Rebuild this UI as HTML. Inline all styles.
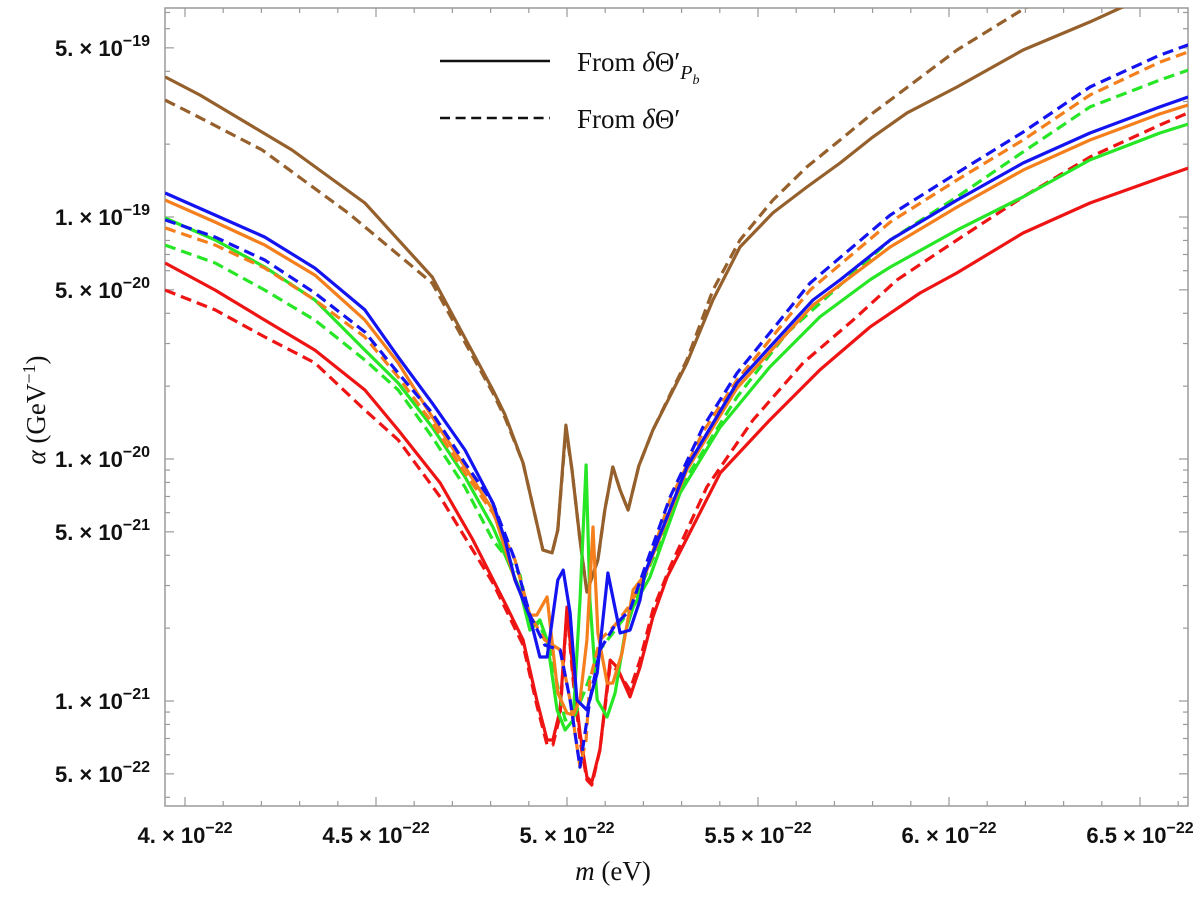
<!DOCTYPE html>
<html><head><meta charset="utf-8"><style>
html,body{margin:0;padding:0;background:#fff;}
svg{display:block;}
.tl{font-family:"Liberation Sans",sans-serif;font-weight:bold;font-size:22px;fill:#111;}
.sr{font-family:"Liberation Serif",serif;fill:#111;}
</style></head><body>
<svg id="chart" width="1200" height="900" viewBox="0 0 1200 900" xmlns="http://www.w3.org/2000/svg">
<defs><clipPath id="plotclip"><rect x="165" y="8" width="1023" height="798"/></clipPath></defs>
<rect x="165" y="8" width="1023" height="798" fill="none" stroke="#9a9a9a" stroke-width="1.5"/>
<g id="ticks"></g>
<g id="series" clip-path="url(#plotclip)"></g>
<g>
<line x1="440" y1="61" x2="550" y2="61" stroke="#111" stroke-width="2.5"/>
<text class="sr" x="577" y="71" font-size="27">From  <tspan font-style="italic">δ</tspan>Θ′<tspan font-style="italic" font-size="20" dy="8">P</tspan><tspan font-style="italic" font-size="14" dy="5">b</tspan></text>
<line x1="440" y1="118" x2="550" y2="118" stroke="#111" stroke-width="2.5" stroke-dasharray="10,5.6"/>
<text class="sr" x="577" y="128" font-size="27">From  <tspan font-style="italic">δ</tspan>Θ′</text>
</g>
<text class="sr" x="613" y="880" font-size="27" text-anchor="middle"><tspan font-style="italic">m</tspan> (eV)</text>
<text class="sr" font-size="27" text-anchor="middle" transform="translate(45,410) rotate(-90)"><tspan font-style="italic">α</tspan> (GeV<tspan font-size="18" dy="-10">−1</tspan><tspan dy="10">)</tspan></text>
</svg>
<script>
const xMajorTicks=[4.0,4.5,5.0,5.5,6.0,6.5];
const xTickLabels=["4.","4.5","5.","5.5","6.","6.5"];
const yMajorMant=[5,1,5,1,5,1,5];
const yMajorExp=[-19,-19,-20,-20,-21,-21,-22];
const seriesNames=["brown-solid","brown-dashed","blue-solid","blue-dashed","orange-solid","orange-dashed","green-solid","green-dashed","red-solid","red-dashed"];
// m in units of 1e-22 eV, values are log10(alpha / GeV^-1)
const brownSolidM=[3.948,4.039,4.280,4.471,4.647,4.806,4.838,4.885,4.937,4.961,4.976,4.997,5.013,5.034,5.052,5.081,5.099,5.120,5.139,5.160,5.188,5.225,5.314,5.382,5.453,5.539,5.628,5.715,5.801,5.890,6.021,6.194,6.369,6.455,6.626];
const brownSolidLog=[-18.421,-18.496,-18.723,-18.942,-19.248,-19.715,-19.818,-20.017,-20.376,-20.388,-20.293,-19.860,-20.045,-20.335,-20.550,-20.417,-20.211,-20.033,-20.128,-20.211,-20.029,-19.880,-19.603,-19.343,-19.124,-18.983,-18.876,-18.777,-18.669,-18.570,-18.463,-18.310,-18.194,-18.132,-18.050];
const brownDashedM=[3.948,4.026,4.202,4.427,4.647,4.806,4.838,4.885,4.937,4.961,4.976,4.997,5.013,5.034,5.052,5.081,5.099,5.120,5.139,5.160,5.188,5.225,5.314,5.382,5.453,5.539,5.628,5.715,5.801,5.846,6.021,6.204,6.350];
const brownDashedLog=[-18.517,-18.579,-18.723,-18.983,-19.273,-19.727,-19.830,-20.017,-20.376,-20.388,-20.293,-19.880,-20.045,-20.335,-20.550,-20.417,-20.211,-20.033,-20.128,-20.211,-20.029,-19.880,-19.591,-19.302,-19.095,-18.930,-18.793,-18.682,-18.570,-18.517,-18.310,-18.132,-17.980];
const blueSolidM=[3.948,4.079,4.209,4.340,4.471,4.558,4.647,4.733,4.806,4.838,4.864,4.903,4.929,4.948,4.976,4.990,5.008,5.026,5.052,5.079,5.107,5.139,5.165,5.191,5.204,5.314,5.445,5.531,5.644,5.715,5.846,6.021,6.194,6.369,6.552,6.626];
const blueSolidLog=[-18.901,-18.992,-19.083,-19.211,-19.384,-19.579,-19.769,-19.963,-20.182,-20.335,-20.500,-20.653,-20.818,-20.818,-20.500,-20.459,-20.636,-20.996,-21.037,-20.884,-20.471,-20.719,-20.707,-20.583,-20.471,-20.033,-19.686,-19.537,-19.343,-19.260,-19.095,-18.930,-18.777,-18.653,-18.545,-18.504];
const blueDashedM=[3.948,4.079,4.209,4.340,4.471,4.558,4.647,4.733,4.806,4.864,4.903,4.942,4.982,5.008,5.034,5.060,5.086,5.126,5.165,5.199,5.270,5.356,5.445,5.531,5.636,5.846,6.021,6.194,6.369,6.552,6.626];
const blueDashedLog=[-19.012,-19.083,-19.178,-19.314,-19.475,-19.645,-19.810,-20.017,-20.182,-20.417,-20.645,-20.769,-20.789,-20.996,-21.273,-20.996,-20.789,-20.686,-20.624,-20.471,-20.157,-19.868,-19.645,-19.479,-19.273,-18.992,-18.818,-18.649,-18.463,-18.331,-18.289];
const orangeSolidM=[3.948,4.079,4.209,4.340,4.471,4.558,4.647,4.733,4.806,4.864,4.903,4.921,4.948,4.976,5.000,5.016,5.034,5.052,5.068,5.081,5.105,5.120,5.144,5.173,5.204,5.314,5.445,5.531,5.644,5.846,6.021,6.194,6.369,6.552,6.626];
const orangeSolidLog=[-18.930,-19.021,-19.116,-19.240,-19.426,-19.603,-19.826,-20.033,-20.211,-20.500,-20.645,-20.645,-20.570,-20.967,-21.050,-21.058,-20.996,-20.748,-20.281,-20.719,-20.926,-20.926,-20.802,-20.541,-20.479,-20.045,-19.707,-19.558,-19.364,-19.124,-18.959,-18.806,-18.682,-18.574,-18.537];
const orangeDashedM=[3.948,4.079,4.209,4.340,4.471,4.558,4.647,4.733,4.806,4.864,4.903,4.942,4.982,5.008,5.034,5.050,5.060,5.086,5.126,5.165,5.204,5.270,5.356,5.445,5.531,5.636,5.846,6.021,6.194,6.369,6.552,6.626];
const orangeDashedLog=[-19.045,-19.116,-19.211,-19.343,-19.496,-19.661,-19.851,-20.058,-20.223,-20.417,-20.645,-20.748,-20.789,-20.996,-21.273,-21.161,-20.913,-20.748,-20.686,-20.603,-20.479,-20.169,-19.888,-19.674,-19.508,-19.302,-19.021,-18.847,-18.682,-18.496,-18.360,-18.318];
const greenSolidM=[3.948,4.079,4.209,4.340,4.471,4.558,4.647,4.733,4.806,4.838,4.877,4.903,4.929,4.948,4.974,4.995,5.016,5.034,5.050,5.060,5.079,5.105,5.126,5.152,5.173,5.217,5.296,5.401,5.531,5.662,5.793,5.846,6.021,6.194,6.369,6.552,6.626];
const greenSolidLog=[-19.004,-19.095,-19.207,-19.343,-19.550,-19.686,-19.868,-20.074,-20.281,-20.397,-20.541,-20.707,-20.665,-20.748,-21.037,-21.120,-21.079,-20.583,-20.025,-20.583,-20.996,-21.066,-20.967,-20.719,-20.612,-20.488,-20.140,-19.868,-19.620,-19.413,-19.260,-19.207,-19.054,-18.917,-18.764,-18.653,-18.616];
const greenDashedM=[3.948,4.079,4.209,4.340,4.471,4.558,4.647,4.733,4.806,4.877,4.903,4.929,4.955,4.995,5.021,5.047,5.086,5.126,5.165,5.209,5.314,5.445,5.576,5.846,6.021,6.194,6.369,6.552,6.626];
const greenDashedLog=[-19.116,-19.190,-19.302,-19.426,-19.591,-19.715,-19.909,-20.116,-20.335,-20.479,-20.665,-20.686,-20.789,-21.079,-21.058,-20.955,-20.789,-20.707,-20.624,-20.471,-20.074,-19.744,-19.479,-19.095,-18.917,-18.731,-18.545,-18.434,-18.393];
const redSolidM=[3.948,4.079,4.209,4.340,4.471,4.558,4.668,4.754,4.843,4.885,4.921,4.948,4.963,4.982,5.000,5.016,5.034,5.052,5.065,5.086,5.113,5.131,5.165,5.191,5.225,5.262,5.401,5.531,5.662,5.793,5.924,6.021,6.194,6.369,6.552,6.626];
const redSolidLog=[-19.190,-19.302,-19.426,-19.550,-19.715,-19.880,-20.099,-20.335,-20.612,-20.748,-20.996,-21.161,-21.161,-21.037,-20.612,-20.884,-21.132,-21.314,-21.335,-21.202,-20.831,-20.860,-20.983,-20.860,-20.653,-20.488,-20.058,-19.839,-19.632,-19.455,-19.314,-19.231,-19.066,-18.942,-18.839,-18.798];
const redDashedM=[3.948,4.079,4.209,4.340,4.471,4.558,4.668,4.806,4.885,4.921,4.948,4.963,4.982,5.000,5.016,5.034,5.052,5.065,5.086,5.113,5.131,5.165,5.191,5.225,5.270,5.366,5.487,5.618,5.749,5.864,6.021,6.194,6.369,6.552,6.626];
const redDashedLog=[-19.302,-19.384,-19.496,-19.603,-19.798,-19.921,-20.157,-20.512,-20.769,-21.017,-21.182,-21.182,-21.058,-20.624,-20.913,-21.161,-21.326,-21.347,-21.202,-20.851,-20.872,-20.955,-20.831,-20.624,-20.446,-20.116,-19.839,-19.603,-19.426,-19.260,-19.095,-18.917,-18.752,-18.620,-18.570];

const NS="http://www.w3.org/2000/svg";
const L=165,R=1188,T=8,B=806;
function X(m){return 185+(m-4)*382;}
function Y(e){return 217-(e+19)*242;}
const svg=document.getElementById('chart');
const tg=document.getElementById('ticks');
function line(x1,y1,x2,y2){const l=document.createElementNS(NS,'line');l.setAttribute('x1',x1);l.setAttribute('y1',y1);l.setAttribute('x2',x2);l.setAttribute('y2',y2);l.setAttribute('stroke','#9a9a9a');l.setAttribute('stroke-width','1.2');


tg.appendChild(l);}
for(let i=39;i<=66;i++){const m=i/10;const x=X(m);if(x<L||x>R)continue;const major=(i%5===0);const len=major?9:5;line(x,B,x,B-len);line(x,T,x,T+len);}
xMajorTicks.forEach((m,i)=>{const t=document.createElementNS(NS,'text');t.setAttribute('class','tl');t.setAttribute('x',X(m));t.setAttribute('y',B+37);t.setAttribute('text-anchor','middle');
t.innerHTML=xTickLabels[i]+' \u00d7 10<tspan font-size="16" dy="-10">\u221222</tspan>';


svg.appendChild(t);});
for(let ex=-23;ex<=-18;ex++){for(let k=1;k<=9;k++){const e=ex+Math.log10(k);const y=Y(e);if(y<T||y>B)continue;const major=(k===1||k===5);const len=major?9:5;line(L,y,L+len,y);line(R,y,R-len,y);}}
yMajorMant.forEach((mt,i)=>{const e=yMajorExp[i]+Math.log10(mt);const t=document.createElementNS(NS,'text');t.setAttribute('class','tl');t.setAttribute('x',150);t.setAttribute('y',Y(e)+8);t.setAttribute('text-anchor','end');
t.innerHTML=mt+'. \u00d7 10<tspan font-size="16" dy="-10">\u2212'+(-yMajorExp[i])+'</tspan>';


svg.appendChild(t);});
const sg=document.getElementById('series');
const allM=[brownSolidM,brownDashedM,blueSolidM,blueDashedM,orangeSolidM,orangeDashedM,greenSolidM,greenDashedM,redSolidM,redDashedM];
const allV=[brownSolidLog,brownDashedLog,blueSolidLog,blueDashedLog,orangeSolidLog,orangeDashedLog,greenSolidLog,greenDashedLog,redSolidLog,redDashedLog];
const colors={brown:'#95602c',blue:'#1414f0',orange:'#f47f1c',green:'#26e626',red:'#ee1414'};
const order=[0,1,8,9,6,7,4,5,2,3];
order.forEach(i=>{const nm=seriesNames[i];const col=colors[nm.split('-')[0]];const p=document.createElementNS(NS,'path');
let d='';allM[i].forEach((m,j)=>{d+=(j?'L':'M')+X(m).toFixed(1)+','+Y(allV[i][j]).toFixed(1);});
p.setAttribute('d',d);p.setAttribute('fill','none');p.setAttribute('stroke',col);p.setAttribute('stroke-width','3.2');p.setAttribute('stroke-linejoin','round');
if(nm.endsWith('dashed'))p.setAttribute('stroke-dasharray','11,6');


sg.appendChild(p);});
</script>
</body></html>
